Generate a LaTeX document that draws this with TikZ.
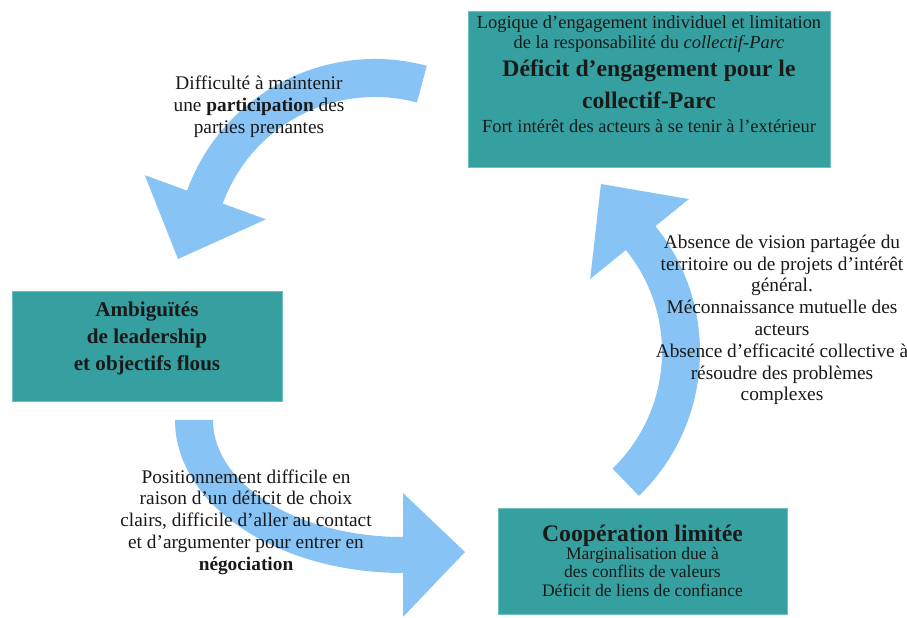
\documentclass[tikz,border=0pt]{standalone}
\usepackage{fontspec}
\setmainfont{Liberation Serif}
\usetikzlibrary{calc, positioning}
\definecolor{parcteal}{RGB}{54,160,160}
\definecolor{parcedge}{RGB}{110,192,192}
\definecolor{cycleblue}{RGB}{135,196,245}
\tikzset{
    box/.style={fill=parcteal, draw=parcedge, line width=0.5pt, inner sep=0pt},
    boxtext/.style={align=center, inner sep=0pt, text=black!90},
    lbl/.style={align=center, inner sep=0pt, text=black!90, font=\fontsize{11}{12.4}\selectfont},
    bigarrow/.style={fill=cycleblue, draw=none}
}

\begin{document}
\begin{tikzpicture}[x=0.02cm, y=0.02cm]
    \def \Rout {200}
    \def \Rin {162}
    \useasboundingbox (0,0) rectangle (907,-618);
    \coordinate (c1) at (375,-259);
    \coordinate (c2) at (403,-420);
    \coordinate (c3) at (500,-352);
    % curved arrows of the cycle
    \fill[bigarrow] ($(c1)+(75:\Rout)$) arc[start angle=75, end angle=160, radius=\Rout]
        -- ($(c1)+(160:245)$) -- ($(c1)+(180:197)$) -- ($(c1)+(160:116)$)
        -- ($(c1)+(160:\Rin)$) arc[start angle=160, end angle=75, radius=\Rin] -- cycle;
    \fill[bigarrow] ($(c2)+(-228,0)$) arc[start angle=180, end angle=270, x radius=228, y radius=153]
        -- ($(c2)+(0,-197)$) -- ($(c2)+(62,-132)$) -- ($(c2)+(0,-73)$)
        -- ($(c2)+(0,-117)$) arc[start angle=270, end angle=180, x radius=190, y radius=117] -- cycle;
    \fill[bigarrow] ($(c3)+(-46:\Rout)$) arc[start angle=-46, end angle=39, radius=\Rout]
        -- ($(c3)+(39:243)$) -- ($(c3)+(59:196)$) -- ($(c3)+(39:116)$)
        -- ($(c3)+(39:\Rin)$) arc[start angle=39, end angle=-46, radius=\Rin] -- cycle;
    % boxes
    \node[box, minimum width=7.24cm, minimum height=3.12cm] (deficit) at (649,-89) {};
    \node[boxtext, below=0.1cm of deficit.north, font=\fontsize{10.5}{11.3}\selectfont] (deficittxt)
        {Logique d’engagement individuel et limitation\\
         de la responsabilité du \textit{collectif-Parc}\\[3pt]
         {\fontsize{13.5}{17}\selectfont\bfseries Déficit d’engagement pour le}\\[5pt]
         {\fontsize{13.5}{17}\selectfont\bfseries collectif-Parc}\\[2pt]
         Fort intérêt des acteurs à se tenir à l'extérieur};
    \node[box, minimum width=5.4cm, minimum height=2.2cm] (ambig) at (147,-346) {};
    \node[boxtext, below=0.22cm of ambig.north, font=\fontsize{12}{15.3}\selectfont\bfseries] (ambigtxt)
        {Ambiguïtés\\de leadership\\et objectifs flous};
    \node[box, minimum width=5.78cm, minimum height=2.12cm] (coop) at (642.5,-561) {};
    \node[boxtext, below=0.34cm of coop.north, font=\fontsize{10}{10.4}\selectfont] (cooptxt)
        {{\fontsize{13.5}{15}\selectfont\bfseries Coopération limitée}\\
         Marginalisation due à\\
         des conflits de valeurs\\
         Déficit de liens de confiance};
    % texts along the arrows
    \node[lbl] (particip) at (259,-107)
        {Difficulté à maintenir\\une \textbf{participation} des\\parties prenantes};
    \node[lbl] (vision) at (782,-320)
        {Absence de vision partagée du\\territoire ou de projets d'intérêt\\général.\\
         Méconnaissance mutuelle des\\acteurs\\Absence d’efficacité collective à\\
         résoudre des problèmes\\complexes};
    \node[lbl] (negoc) at (246,-522)
        {Positionnement difficile en\\raison d’un déficit de choix\\clairs, difficile d’aller au contact\\
         et d’argumenter pour entrer en\\\textbf{négociation}};
\end{tikzpicture}
\end{document}
